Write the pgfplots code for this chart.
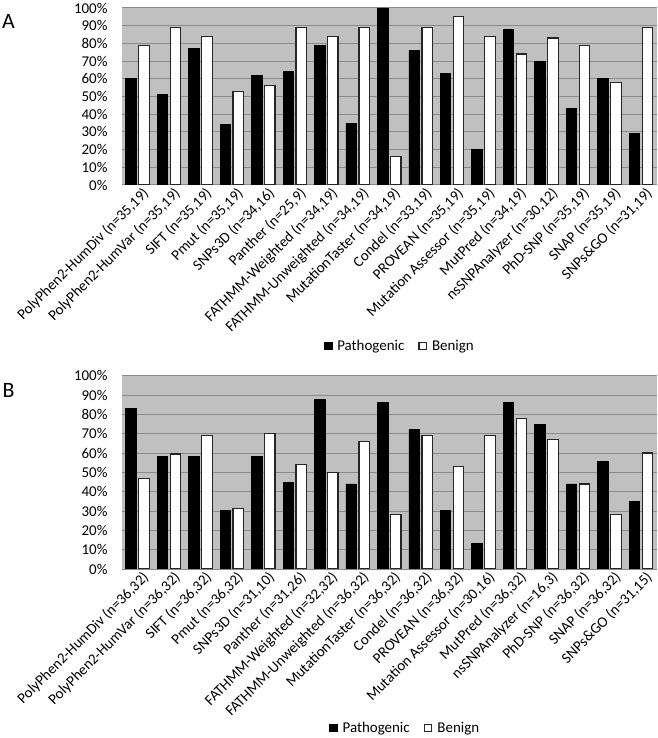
\documentclass[border=0pt]{standalone}
\usepackage{pgfplots}
\pgfplotsset{compat=1.18}
\usepackage{fontspec}
\setmainfont{Carlito}

\definecolor{plotbg}{HTML}{C0C0C0}
\definecolor{gridgray}{HTML}{8A8A8A}

\pgfplotstableread{
x path ben
1 60 79
2 51 89
3 77 84
4 34 53
5 62 56
6 64 89
7 79 84
8 35 89
9 100 16
10 76 89
11 63 95
12 20 84
13 88 74
14 70 83
15 43 79
16 60 58
17 29 89
}\dataA

\pgfplotstableread{
x path ben
1 83 47
2 58 59.5
3 58 69
4 30.5 31.5
5 58 70
6 45 54
7 87.5 50
8 44 66
9 86 28
10 72 69
11 30.5 53
12 13 69
13 86 78
14 75 67
15 44 44
16 55.5 28
17 35 60
}\dataB

\pgfplotsset{
  panel/.style={
    scale only axis,
    width=535bp,
    ybar=2.5bp,
    bar width=10.5bp,
    xmin=0.5, xmax=17.5,
    ymin=0, ymax=100,
    font=\fontsize{15}{17}\selectfont,
    axis background/.style={fill=plotbg},
    axis line style={draw=none},
    ymajorgrids,
    grid style={gridgray, line width=1bp},
    major tick length=0pt,
    ytick={0,10,...,100},
    yticklabels={0\%,10\%,20\%,30\%,40\%,50\%,60\%,70\%,80\%,90\%,100\%},
    yticklabel style={anchor=east, inner sep=0pt, xshift=-14bp},
    xtick={1,...,17},
    xticklabel style={rotate=45, anchor=north east, inner sep=0pt, yshift=-4bp, xshift=2bp},
    legend columns=-1,
    legend style={draw=none, fill=none, anchor=center,
      font=\fontsize{15}{17}\selectfont,
      /tikz/every odd column/.append style={column sep=3bp},
      /tikz/every even column/.append style={column sep=12bp}},
    legend image code/.code={\draw[#1] (0bp,-3.7bp) rectangle (7.5bp,3.7bp);},
  },
  pathbar/.style={fill=black, draw=black, line width=0.8bp},
  benbar/.style={fill=white, draw=black!85, line width=1.2bp},
}

\begin{document}
\begin{tikzpicture}
\useasboundingbox (0,0) rectangle (658bp,738bp);

\begin{axis}[panel,
  at={(121.7bp,553bp)}, anchor=south west,
  height=177bp,
  legend style={at={(0.52,-0.91)}},
  xticklabels={PolyPhen2-HumDiv (n=35{,}19), PolyPhen2-HumVar (n=35{,}19), SIFT (n=35{,}19), Pmut (n=35{,}19), SNPs3D (n=34{,}16), Panther (n=25{,}9), FATHMM-Weighted (n=34{,}19), FATHMM-Unweighted (n=34{,}19), MutationTaster (n=34{,}19), Condel (n=33{,}19), PROVEAN (n=35{,}19), Mutation Assessor (n=35{,}19), MutPred (n=34{,}19), nsSNPAnalyzer (n=30{,}12), PhD-SNP (n=35{,}19), SNAP (n=35{,}19), SNPs\&GO (n=31{,}19)},
]
\addplot[pathbar] table[x=x, y=path] {\dataA};
\addlegendentry{Pathogenic}
\addplot[benbar] table[x=x, y=ben] {\dataA};
\addlegendentry{Benign}
\end{axis}

\begin{axis}[panel,
  at={(121.7bp,169bp)}, anchor=south west,
  height=193.3bp,
  legend style={at={(0.53,-0.823)}},
  xticklabels={PolyPhen2-HumDiv (n=36{,}32), PolyPhen2-HumVar (n=36{,}32), SIFT (n=36{,}32), Pmut (n=36{,}32), SNPs3D (n=31{,}10), Panther (n=31{,}26), FATHMM-Weighted (n=32{,}32), FATHMM-Unweighted (n=36{,}32), MutationTaster (n=36{,}32), Condel (n=36{,}32), PROVEAN (n=36{,}32), Mutation Assessor (n=30{,}16), MutPred (n=36{,}32), nsSNPAnalyzer (n=16{,}3), PhD-SNP (n=36{,}32), SNAP (n=36{,}32), SNPs\&GO (n=31{,}15)},
]
\addplot[pathbar] table[x=x, y=path] {\dataB};
\addlegendentry{Pathogenic}
\addplot[benbar] table[x=x, y=ben] {\dataB};
\addlegendentry{Benign}
\end{axis}

\node[font=\fontsize{22}{25}\selectfont, anchor=center] at (8.5bp,717bp) {A};
\node[font=\fontsize{22}{25}\selectfont, anchor=center] at (8.5bp,348bp) {B};
\end{tikzpicture}
\end{document}
